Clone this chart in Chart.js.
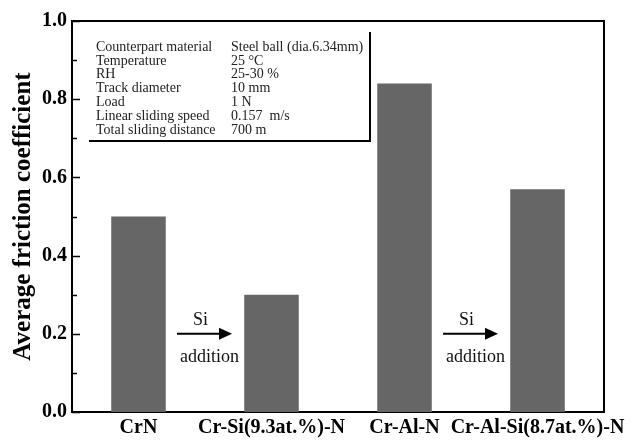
<!DOCTYPE html>
<html>
<head>
<meta charset="utf-8">
<title>Average friction coefficient</title>
<script src="https://cdn.jsdelivr.net/npm/chart.js@4/dist/chart.umd.min.js"></script>
<style>
  html, body { margin: 0; padding: 0; background: #fff; }
  canvas { display: block; }
</style>
</head>
<body>
<canvas id="chart" width="640" height="440"></canvas>
<script>
// Coatings tested and their average friction coefficient
const categories = ['CrN', 'Cr-Si(9.3at.%)-N', 'Cr-Al-N', 'Cr-Al-Si(8.7at.%)-N'];
const frictionCoefficient = [0.50, 0.30, 0.84, 0.57];

// Y axis tick values
const majorTicks = [0.0, 0.2, 0.4, 0.6, 0.8, 1.0];
const minorTicks = [0.1, 0.3, 0.5, 0.7, 0.9];

// Test conditions table
const conditionNames = ['Counterpart material', 'Temperature', 'RH', 'Track diameter',
                        'Load', 'Linear sliding speed', 'Total sliding distance'];
const conditionValues = ['Steel ball (dia.6.34mm)', '25 \u00B0C', '25-30 %', '10 mm',
                         '1 N', '0.157  m/s', '700 m'];

// Si addition arrows: between which categories they sit
const arrowPairs = [[0, 1], [2, 3]];

const SERIF = "'Liberation Serif', 'Times New Roman', serif";

// Frame, inward ticks, conditions table and arrows
const decorations = {
  id: 'decorations',
  afterDraw(chart) {
    const ctx = chart.ctx;
    const a = chart.chartArea;
    const y = chart.scales.y;
    const x = chart.scales.x;
    ctx.save();

    // frame
    ctx.strokeStyle = '#000';
    ctx.lineWidth = 2;
    ctx.beginPath();
    ctx.moveTo(a.left, a.top);
    ctx.lineTo(a.right, a.top);
    ctx.lineTo(a.right, a.bottom);
    ctx.stroke();

    // inward ticks on the y axis
    ctx.lineWidth = 1.5;
    ctx.beginPath();
    majorTicks.forEach(v => {
      const p = Math.round(y.getPixelForValue(v)) + 0.5;
      ctx.moveTo(a.left, p); ctx.lineTo(a.left + 8, p);
    });
    minorTicks.forEach(v => {
      const p = Math.round(y.getPixelForValue(v)) + 0.5;
      ctx.moveTo(a.left, p); ctx.lineTo(a.left + 5, p);
    });
    ctx.stroke();

    // conditions table
    ctx.fillStyle = '#222';
    ctx.font = '14px ' + SERIF;
    ctx.textBaseline = 'middle';
    ctx.textAlign = 'left';
    conditionNames.forEach((name, i) => {
      const ty = a.top + 26 + i * 13.9;
      ctx.fillText(name, a.left + 24, ty);
      ctx.fillText(conditionValues[i], a.left + 159, ty);
    });
    ctx.strokeStyle = '#000';
    ctx.lineWidth = 2;
    ctx.beginPath();
    ctx.moveTo(a.left + 17, a.top + 120);
    ctx.lineTo(a.left + 298, a.top + 120);
    ctx.lineTo(a.left + 298, a.top + 11);
    ctx.stroke();

    // Si addition arrows
    const ay = y.getPixelForValue(0.2);
    arrowPairs.forEach(([i, j]) => {
      const mid = (x.getPixelForValue(i) + x.getPixelForValue(j)) / 2;
      const x0 = mid - 28, x1 = mid + 27;
      ctx.strokeStyle = '#000';
      ctx.lineWidth = 2;
      ctx.beginPath();
      ctx.moveTo(x0, ay);
      ctx.lineTo(x1 - 10, ay);
      ctx.stroke();
      ctx.fillStyle = '#000';
      ctx.beginPath();
      ctx.moveTo(x1, ay);
      ctx.lineTo(x1 - 13, ay - 6);
      ctx.lineTo(x1 - 13, ay + 6);
      ctx.closePath();
      ctx.fill();

      ctx.fillStyle = '#111';
      ctx.font = '18px ' + SERIF;
      ctx.textAlign = 'left';
      ctx.textBaseline = 'middle';
      ctx.fillText('Si', x0 + 16, ay - 14);
      ctx.fillText('addition', x0 + 3, ay + 23);
    });

    ctx.restore();
  }
};

Chart.defaults.color = '#000';
Chart.defaults.font.family = SERIF;

new Chart(document.getElementById('chart'), {
  type: 'bar',
  data: {
    labels: categories,
    datasets: [{
      data: frictionCoefficient,
      backgroundColor: '#666666',
      borderWidth: 0,
      barPercentage: 0.41,
      categoryPercentage: 1.0
    }]
  },
  options: {
    responsive: false,
    animation: false,
    layout: { padding: { top: 21, right: 36, left: 0, bottom: 0 } },
    plugins: {
      legend: { display: false },
      tooltip: { enabled: false },
      title: { display: false }
    },
    scales: {
      x: {
        type: 'category',
        offset: true,
        grid: { display: false, drawTicks: false },
        border: { display: true, color: '#000', width: 2 },
        ticks: {
          autoSkip: false,
          maxRotation: 0,
          minRotation: 0,
          padding: 4,
          color: '#000',
          font: { size: 20, weight: 'bold', family: SERIF, lineHeight: 1.2 }
        },
        afterFit(scale) { scale.height = 28; }
      },
      y: {
        min: 0,
        max: 1,
        afterBuildTicks(scale) { scale.ticks = majorTicks.map(v => ({ value: v })); },
        grid: { display: false, drawTicks: false },
        border: { display: true, color: '#000', width: 2 },
        ticks: {
          padding: 5,
          color: '#000',
          font: { size: 20, weight: 'bold', family: SERIF },
          callback: v => Number(v).toFixed(1)
        },
        title: {
          display: true,
          text: 'Average friction coefficient',
          color: '#000',
          padding: { top: 9, bottom: 0 },
          font: { size: 25, weight: 'bold', family: SERIF, lineHeight: 1.2 }
        },
        afterFit(scale) { scale.width = 72; }
      }
    }
  },
  plugins: [decorations]
});
</script>
</body>
</html>
